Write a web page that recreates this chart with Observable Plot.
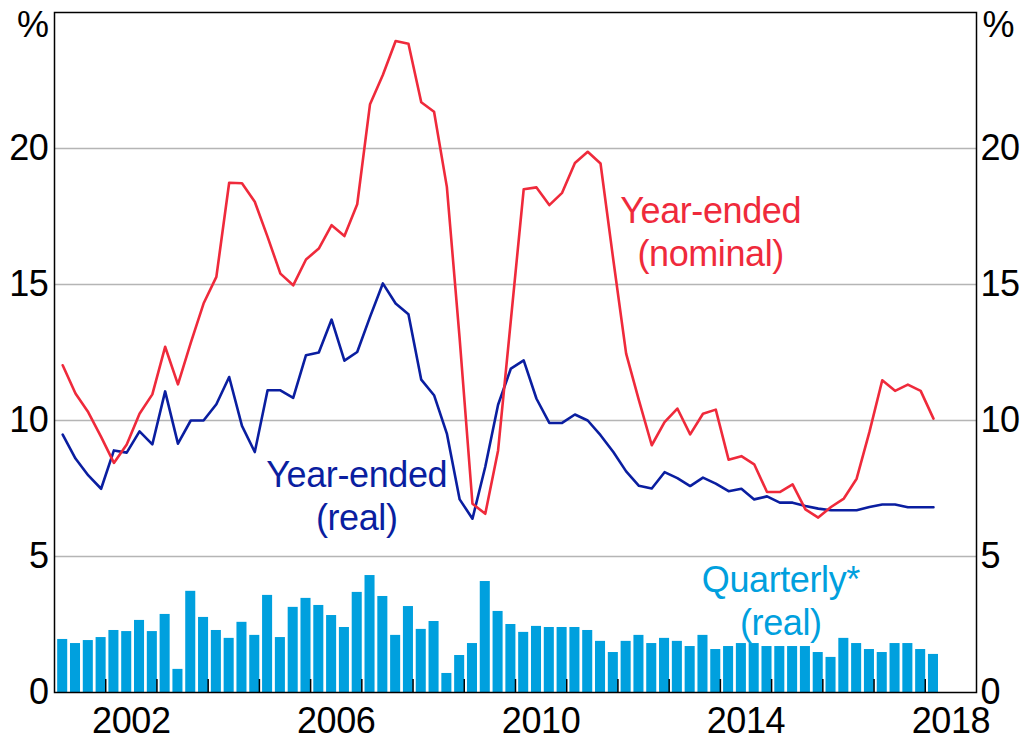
<!DOCTYPE html>
<html>
<head>
<meta charset="utf-8">
<script src="https://cdn.jsdelivr.net/npm/d3@7"></script>
<script src="https://cdn.jsdelivr.net/npm/@observablehq/plot@0.6"></script>
<style>
  html, body { margin: 0; padding: 0; background: #fff; overflow: hidden; }
  #chart svg text { letter-spacing: -0.4px; }
</style>
</head>
<body>
<div id="chart"></div>
<script>
// Quarterly series, 2001 Q1 to 2018 Q1
const startYear = 2001;

// Year-ended growth, nominal (%)
const nominal = [
  12.03, 10.99, 10.3, 9.4, 8.44, 9.12, 10.25, 10.96,
  12.71, 11.33, 12.85, 14.3, 15.28, 18.74, 18.72, 18.04,
  16.75, 15.4, 14.97, 15.92, 16.32, 17.18, 16.78, 17.95,
  21.63, 22.7, 23.95, 23.85, 21.7, 21.35, 18.59, 13.0,
  6.94, 6.57, 8.9, 13.7, 18.5, 18.57, 17.92, 18.37,
  19.47, 19.88, 19.45, 15.9, 12.46, 10.74, 9.09, 9.94,
  10.44, 9.49, 10.25, 10.4, 8.56, 8.69, 8.39, 7.37,
  7.37, 7.65, 6.73, 6.43, 6.82, 7.13, 7.86, 9.58,
  11.48, 11.09, 11.32, 11.09, 10.07
];

// Year-ended growth, real (%)
const real = [
  9.48, 8.6, 7.98, 7.49, 8.9, 8.82, 9.6, 9.12,
  11.07, 9.15, 10.0, 10.0, 10.6, 11.6, 9.8, 8.84,
  11.11, 11.11, 10.83, 12.4, 12.5, 13.71, 12.2, 12.52,
  13.81, 15.04, 14.3, 13.91, 11.5, 10.93, 9.52, 7.1,
  6.39, 8.3, 10.58, 11.91, 12.21, 10.8, 9.91, 9.91,
  10.22, 10.0, 9.46, 8.84, 8.13, 7.6, 7.5, 8.1,
  7.88, 7.59, 7.9, 7.68, 7.4, 7.49, 7.1, 7.21,
  6.98, 6.98, 6.86, 6.76, 6.7, 6.7, 6.7, 6.82,
  6.91, 6.91, 6.81, 6.81, 6.81
];

// Quarterly growth, real (%)
const quarterly = [
  1.95, 1.80, 1.91, 2.02, 2.28, 2.24, 2.65, 2.24,
  2.87, 0.85, 3.72, 2.76, 2.28, 1.99, 2.58, 2.10,
  3.57, 2.02, 3.13, 3.46, 3.20, 2.83, 2.39, 3.68,
  4.30, 3.53, 2.10, 3.16, 2.32, 2.61, 0.70, 1.36,
  1.80, 4.08, 2.98, 2.50, 2.21, 2.43, 2.39, 2.39,
  2.39, 2.28, 1.88, 1.47, 1.88, 2.10, 1.80, 1.99,
  1.88, 1.69, 2.10, 1.58, 1.69, 1.80, 1.80, 1.69,
  1.69, 1.69, 1.69, 1.47, 1.29, 1.99, 1.80, 1.58,
  1.47, 1.80, 1.80, 1.58, 1.40
];

const yTicks = [0, 5, 10, 15, 20];
const xTickYears = d3.range(2002, 2019);
const xLabelYears = [2002, 2006, 2010, 2014, 2018];

const labelNominal = [{x: 2013.81, y: 16.97, text: "Year-ended\n(nominal)"}];
const labelReal = [{x: 2006.9, y: 7.27, text: "Year-ended\n(real)"}];
const labelQuarterly = [{x: 2015.18, y: 3.42, text: "Quarterly*\n(real)"}];

const red = "#ef2a3b";
const blue = "#0a1ea0";
const cyan = "#00a0de";

// quarter position in decimal years
const qt = i => startYear + i / 4 + 0.16;
const halfBar = 0.098;

const rowsNominal = nominal.map((v, i) => ({t: qt(i), v}));
const rowsReal = real.map((v, i) => ({t: qt(i), v}));
const rowsQuarterly = quarterly.map((v, i) => ({t: qt(i), v}));

const W = 1023, H = 742;
const mTop = 12, mBottom = 50, mLeft = 54, mRight = 47;
const fs = 36;

const chart = Plot.plot({
  width: W,
  height: H,
  marginTop: mTop,
  marginBottom: mBottom,
  marginLeft: mLeft,
  marginRight: mRight,
  style: {fontFamily: "'Liberation Sans', Arial, sans-serif", fontSize: fs + "px", background: "#fff", color: "#000"},
  x: {domain: [2001, 2019], label: null},
  y: {domain: [0, 25], label: null},
  marks: [
    Plot.ruleY(yTicks.filter(d => d > 0), {stroke: "#b5b5b5", strokeWidth: 1.3}),
    Plot.rectY(rowsQuarterly, {x1: d => d.t - halfBar, x2: d => d.t + halfBar, y: "v", fill: cyan}),
    Plot.line(rowsReal, {x: "t", y: "v", stroke: blue, strokeWidth: 2.6}),
    Plot.line(rowsNominal, {x: "t", y: "v", stroke: red, strokeWidth: 2.6}),
    Plot.ruleX(xTickYears, {stroke: "#000", strokeWidth: 1.5, insetTop: H - mTop - mBottom - 13}),
    Plot.frame({stroke: "#000", strokeWidth: 1.5}),
    Plot.axisX({ticks: xLabelYears.map(y => y + 0.5), tickSize: 0, tickPadding: 15, tickFormat: d => String(Math.floor(d)), fontSize: fs, label: null}),
    Plot.axisY({anchor: "left", ticks: yTicks, tickSize: 0, tickPadding: 6, fontSize: fs, label: null}),
    Plot.axisY({anchor: "right", ticks: yTicks, tickSize: 0, tickPadding: 4, fontSize: fs, label: null}),
    Plot.text(["%"], {frameAnchor: "top-left", textAnchor: "end", dx: -6, dy: 13, lineAnchor: "middle", fontSize: fs, fill: "#000"}),
    Plot.text(["%"], {frameAnchor: "top-right", textAnchor: "start", dx: 6, dy: 13, lineAnchor: "middle", fontSize: fs, fill: "#000"}),
    Plot.text(labelNominal, {x: "x", y: "y", text: "text", fill: red, fontSize: fs, lineHeight: 1.2, textAnchor: "middle", lineAnchor: "middle"}),
    Plot.text(labelReal, {x: "x", y: "y", text: "text", fill: blue, fontSize: fs, lineHeight: 1.2, textAnchor: "middle", lineAnchor: "middle"}),
    Plot.text(labelQuarterly, {x: "x", y: "y", text: "text", fill: cyan, fontSize: fs, lineHeight: 1.2, textAnchor: "middle", lineAnchor: "middle"})
  ]
});

document.getElementById("chart").appendChild(chart);
</script>
</body>
</html>
